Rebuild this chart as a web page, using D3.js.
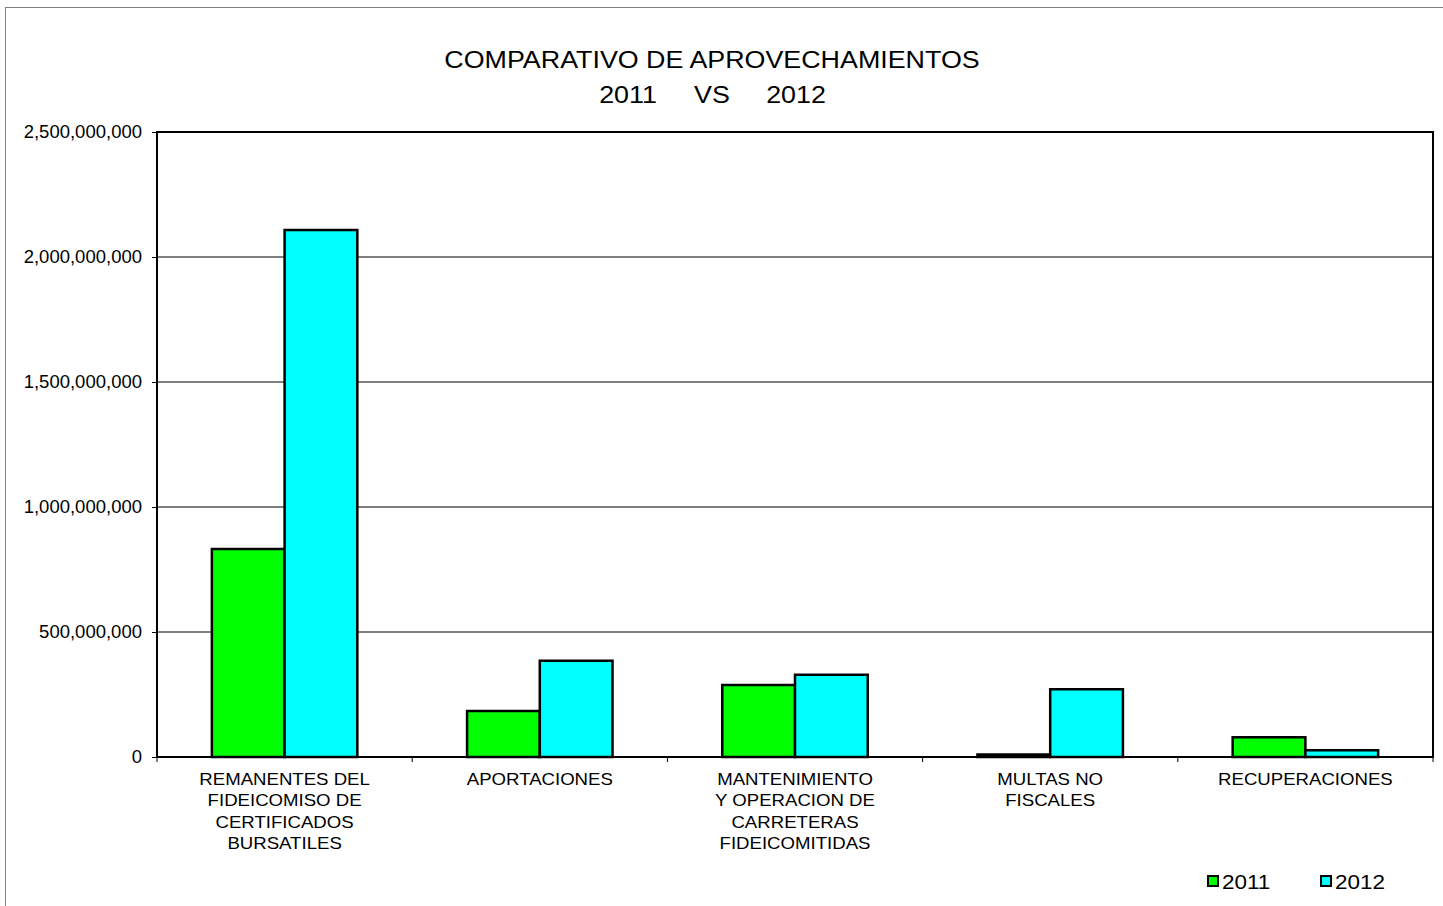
<!DOCTYPE html>
<html><head><meta charset="utf-8">
<script src="https://cdn.jsdelivr.net/npm/d3@7"></script>
<style>body{margin:0;background:#fff}svg{display:block;font-family:"Liberation Sans",Arial,sans-serif}</style>
</head><body><svg id="c" width="1443" height="906"></svg>
<script>
const categories = [
  ["REMANENTES DEL","FIDEICOMISO DE","CERTIFICADOS","BURSATILES"],
  ["APORTACIONES"],
  ["MANTENIMIENTO","Y OPERACION DE","CARRETERAS","FIDEICOMITIDAS"],
  ["MULTAS NO","FISCALES"],
  ["RECUPERACIONES"]
];
const seriesNames = ["2011","2012"];
const values2011 = [832000000, 184000000, 288000000, 10000000, 79000000];
const values2012 = [2108000000, 385000000, 329000000, 271000000, 27000000];
const yTicks = [0, 500000000, 1000000000, 1500000000, 2000000000, 2500000000];
const titleLine1 = "COMPARATIVO DE APROVECHAMIENTOS";
const titleLine2 = ["2011","VS","2012"];
const colors = ["#00ff00", "#00ffff"];

const svg = d3.select("#c");
const L=157, R=1433, T=132, B=757;

function stext(x, y, s, size, sx, anchor){
  return svg.append("text").attr("transform",`translate(${x},${y}) scale(${sx},1)`)
    .attr("text-anchor",anchor||"middle").attr("font-size",size).attr("fill","#000").text(s);
}

svg.append("rect").attr("x",5.5).attr("y",7.5).attr("width",1450).attr("height",920)
  .attr("fill","none").attr("stroke","#808080").attr("stroke-width",1);

const x0 = d3.scaleBand().domain(d3.range(categories.length)).range([L,R]).paddingInner(0).paddingOuter(0);
const inner = 0.57;
const x1 = d3.scaleBand().domain(seriesNames).range([0, x0.bandwidth()*inner]);
const y = d3.scaleLinear().domain([0,2500000000]).range([B,T]);

// gridlines
svg.append("g").selectAll("line").data(yTicks.filter(d=>d>0)).join("line")
  .attr("x1",L).attr("x2",R).attr("y1",d=>y(d)).attr("y2",d=>y(d))
  .attr("stroke","#000").attr("stroke-width",1);

// y axis
const ya = svg.append("g").attr("transform",`translate(${L},0)`)
  .call(d3.axisLeft(y).tickValues(yTicks).tickFormat(d3.format(",")).tickSize(5).tickPadding(10));
ya.select(".domain").remove();
ya.selectAll("text").attr("font-size",18.5).attr("fill","#000").style("font-family","Liberation Sans, Arial");
ya.selectAll("line").attr("stroke","#000");

// bars
const series = [values2011, values2012];
const g = svg.append("g");
categories.forEach((c,i)=>{
  const gx = x0(i) + x0.bandwidth()*(1-inner)/2;
  seriesNames.forEach((s,j)=>{
    const v = series[j][i];
    g.append("rect").attr("x",gx+x1(s)).attr("y",y(v)).attr("width",x1.bandwidth()).attr("height",B-y(v))
      .attr("fill",colors[j]).attr("stroke","#000").attr("stroke-width",2.5);
  });
});

// plot frame
svg.append("rect").attr("x",L).attr("y",T).attr("width",R-L).attr("height",B-T)
  .attr("fill","none").attr("stroke","#000").attr("stroke-width",2);

// x ticks at boundaries
svg.append("g").selectAll("line").data(d3.range(categories.length+1)).join("line")
  .attr("x1",d=>L+d*x0.step()).attr("x2",d=>L+d*x0.step()).attr("y1",B).attr("y2",B+5)
  .attr("stroke","#000");

// category labels
categories.forEach((lines,i)=>{
  const cx = x0(i)+x0.bandwidth()/2;
  lines.forEach((ln,k)=>stext(cx, 785+k*21.3, ln, 17, 1.095));
});

// title
stext(712, 68, titleLine1, 24.5, 1.096);
const t2x = [628, 712, 796];
titleLine2.forEach((s,i)=>stext(t2x[i], 103, s, 24.5, 1.096));

// legend
const lx = [1208, 1321];
seriesNames.forEach((s,j)=>{
  svg.append("rect").attr("x",lx[j]).attr("y",876).attr("width",10).attr("height",10)
    .attr("fill",colors[j]).attr("stroke","#000").attr("stroke-width",2);
  stext(lx[j]+14, 889, s, 21, 1.07, "start");
});
</script></body></html>
